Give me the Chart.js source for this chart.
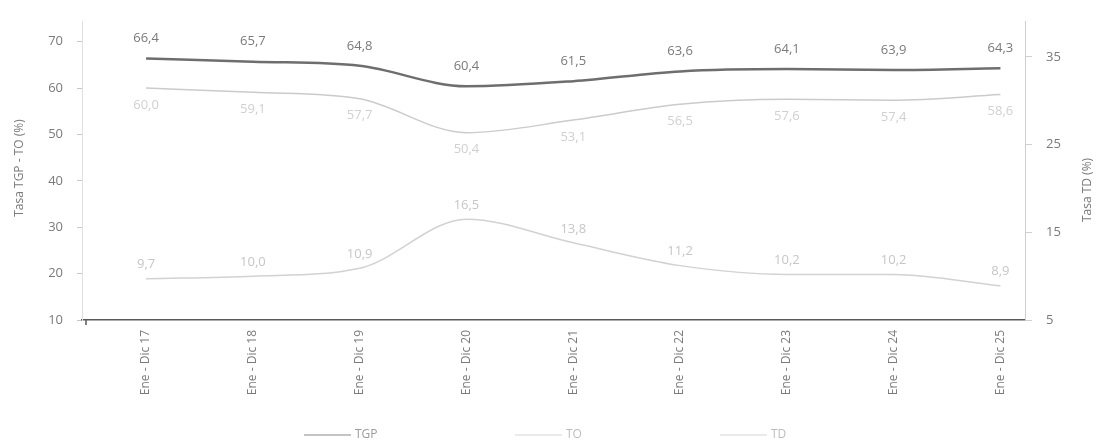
<!DOCTYPE html>
<html>
<head>
<meta charset="utf-8">
<script src="https://cdn.jsdelivr.net/npm/chart.js@4.4.1/dist/chart.umd.min.js"></script>
<style>
  html, body { margin: 0; padding: 0; background: #ffffff; }
  #wrap { width: 1102px; height: 442px; }
</style>
</head>
<body>
<div id="wrap"><canvas id="c" width="1102" height="442"></canvas></div>
<script>
const categories = ["Ene - Dic 17", "Ene - Dic 18", "Ene - Dic 19", "Ene - Dic 20", "Ene - Dic 21", "Ene - Dic 22", "Ene - Dic 23", "Ene - Dic 24", "Ene - Dic 25"];
const tgp = [66.4, 65.7, 64.8, 60.4, 61.5, 63.6, 64.1, 63.9, 64.3];
const to = [60.0, 59.1, 57.7, 50.4, 53.1, 56.5, 57.6, 57.4, 58.6];
const td = [9.7, 10.0, 10.9, 16.5, 13.8, 11.2, 10.2, 10.2, 8.9];
const leftTicks = [10, 20, 30, 40, 50, 60, 70];
const rightTicks = [5, 15, 25, 35];
const seriesNames = ["TGP", "TO", "TD"];
const leftTitle = "Tasa TGP - TO (%)";
const rightTitle = "Tasa TD (%)";

const FONT = "'Open Sans', 'DejaVu Sans', sans-serif";
const fmt = v => v.toFixed(1).replace('.', ',');
const toPts = arr => arr.map((v, i) => ({ x: i, y: v }));

const labelStyle = [
  { color: '#7a7a7a', dy: -20, size: 13 },
  { color: '#d0d0d0', dy: 17, size: 13 },
  { color: '#c6c6c6', dy: -14, size: 13 }
];

const valueLabels = {
  id: 'valueLabels',
  afterDatasetsDraw(chart) {
    const ctx = chart.ctx;
    ctx.save();
    ctx.textAlign = 'center';
    ctx.textBaseline = 'middle';
    chart.data.datasets.forEach((ds, di) => {
      const meta = chart.getDatasetMeta(di);
      const st = labelStyle[di];
      ctx.font = st.size + 'px ' + FONT;
      ctx.fillStyle = st.color;
      meta.data.forEach((pt, i) => {
        ctx.fillText(fmt(ds.data[i].y), pt.x, pt.y + st.dy);
      });
    });
    ctx.restore();
  }
};

const extras = {
  id: 'extras',
  afterDraw(chart) {
    const ctx = chart.ctx;
    ctx.save();
    ctx.font = '12px ' + FONT;
    ctx.fillStyle = '#7a7a7a';
    ctx.textAlign = 'center';
    ctx.textBaseline = 'middle';
    ctx.save(); ctx.translate(20, 168); ctx.rotate(-Math.PI / 2); ctx.fillText(leftTitle, 0, 0); ctx.restore();
    ctx.save(); ctx.translate(1088, 190); ctx.rotate(-Math.PI / 2); ctx.fillText(rightTitle, 0, 0); ctx.restore();
    const a = chart.chartArea;
    ctx.strokeStyle = '#5a5a5a';
    ctx.lineWidth = 1.5;
    ctx.beginPath(); ctx.moveTo(a.left + 4, a.bottom); ctx.lineTo(a.left + 4, a.bottom + 5); ctx.stroke();
    const xs = [304, 515, 720];
    const y = 435;
    ctx.font = '12px ' + FONT;
    ctx.textAlign = 'left';
    chart.data.datasets.forEach((ds, i) => {
      ctx.strokeStyle = i === 0 ? '#8a8a8a' : '#d6d6d6';
      ctx.lineWidth = 1.2;
      ctx.beginPath();
      ctx.moveTo(xs[i], y);
      ctx.lineTo(xs[i] + 47, y);
      ctx.stroke();
      ctx.fillStyle = i === 0 ? '#9a9a9a' : '#bdbdbd';
      ctx.fillText(ds.label, xs[i] + 51, y);
    });
    ctx.restore();
  }
};

new Chart(document.getElementById('c'), {
  type: 'line',
  data: {
    datasets: [
      { label: seriesNames[0], data: toPts(tgp), yAxisID: 'yL', borderColor: '#6e6e6e', borderWidth: 2.5, pointRadius: 0, cubicInterpolationMode: 'monotone', fill: false },
      { label: seriesNames[1], data: toPts(to), yAxisID: 'yL', borderColor: '#cbcbcb', borderWidth: 1.5, pointRadius: 0, cubicInterpolationMode: 'monotone', fill: false },
      { label: seriesNames[2], data: toPts(td), yAxisID: 'yR', borderColor: '#d2d2d2', borderWidth: 1.5, pointRadius: 0, cubicInterpolationMode: 'monotone', fill: false }
    ]
  },
  options: {
    responsive: false,
    animation: false,
    layout: { padding: { top: 7, bottom: 25, left: 0, right: 0 } },
    plugins: { legend: { display: false }, tooltip: { enabled: false } },
    scales: {
      x: {
        type: 'linear',
        min: -0.6,
        max: 8.23,
        afterBuildTicks: s => { s.ticks = categories.map((_, i) => ({ value: i })); },
        afterFit: s => { s.height = 97; },
        grid: { drawOnChartArea: false, drawTicks: false },
        border: { display: true, color: '#5a5a5a', width: 1.5 },
        ticks: {
          autoSkip: false,
          minRotation: 90,
          maxRotation: 90,
          padding: 10,
          color: '#7a7a7a',
          font: { family: FONT, size: 12 },
          callback: v => categories[v]
        }
      },
      yL: {
        position: 'left',
        min: 10,
        max: 74.3,
        afterBuildTicks: s => { s.ticks = leftTicks.map(v => ({ value: v })); },
        afterFit: s => { s.width = 82; },
        grid: { drawOnChartArea: false, drawTicks: true, tickLength: 5, color: '#c8c8c8' },
        border: { display: true, color: '#e0e0e0', width: 1, dash: [2, 2] },
        ticks: { color: '#7a7a7a', padding: 14, font: { family: FONT, size: 13 } }
      },
      yR: {
        position: 'right',
        min: 5,
        max: 39,
        afterBuildTicks: s => { s.ticks = rightTicks.map(v => ({ value: v })); },
        afterFit: s => { s.width = 77; },
        grid: { drawOnChartArea: false, drawTicks: true, tickLength: 7, color: '#d0d0d0' },
        border: { display: true, color: '#cfcfcf', width: 1, dash: [2, 2] },
        ticks: { color: '#7a7a7a', padding: 14, font: { family: FONT, size: 13 } }
      }
    }
  },
  plugins: [valueLabels, extras]
});
</script>
</body>
</html>
